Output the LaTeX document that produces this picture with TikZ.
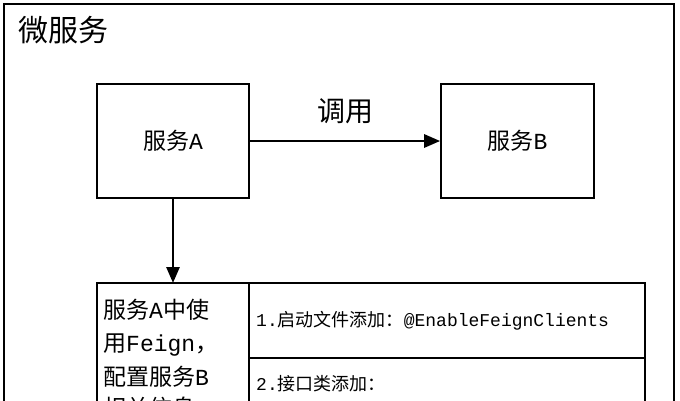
\documentclass[tikz,border=0pt]{standalone}
\usepackage{fontspec}
\setmainfont{Liberation Mono}
\newfontfamily\cjk{Noto Sans CJK SC}
\usetikzlibrary{arrows.meta}
\begin{document}
\begin{tikzpicture}[x=1pt,y=-1pt,
  box/.style={draw,line width=1.6pt},
  arr/.style={line width=2.8pt,-{Triangle[length=16pt,width=13pt]}},
  txt/.style={font=\fontsize{23}{26}\selectfont,inner sep=0pt}]
\useasboundingbox (0,0) rectangle (680,400);
\clip (0,0) rectangle (680,400);
\draw[line width=2.5pt] (4,4) rectangle (674,420);
\node[txt,anchor=west,font=\fontsize{30}{32}\selectfont] (title) at (18,30) {\cjk 微服务};
\node[box,minimum width=152pt,minimum height=114pt] (a) at (173,141) {};
\node[txt] (at) at (173,141) {{\cjk 服务}A};
\node[box,minimum width=153pt,minimum height=114pt] (b) at (517.5,141) {};
\node[txt] (bt) at (517.5,141) {{\cjk 服务}B};
\draw[arr] (a.east) -- (b.west) node[midway,above=16pt,txt,font=\fontsize{28}{30}\selectfont] (call) {\cjk 调用};
\coordinate (c) at (173,283);
\draw[arr] (a.south) -- (c);
\draw[box] (97,283) rectangle (249,430);
\draw[box] (249,283) rectangle (645,430);
\draw[box] (249,358) -- (645,358);
\node[txt,anchor=west] (l1) at (103,310) {\cjk 服务\rmfamily A\cjk 中使};
\node[txt,anchor=west] (l2) at (103,345) {{\cjk 用}Feign{\cjk ，}};
\node[txt,anchor=west] (l3) at (103,377) {{\cjk 配置服务}B};
\node[txt,anchor=west] (l4) at (103,408) {\cjk 相关信息};
\node[txt,anchor=west,font=\fontsize{18}{20}\selectfont] (r1) at (256,321) {1.{\cjk 启动文件添加：}@EnableFeignClients};
\node[txt,anchor=west,font=\fontsize{18}{20}\selectfont] (r2) at (256,384) {2.{\cjk 接口类添加：}};
\end{tikzpicture}
\end{document}
